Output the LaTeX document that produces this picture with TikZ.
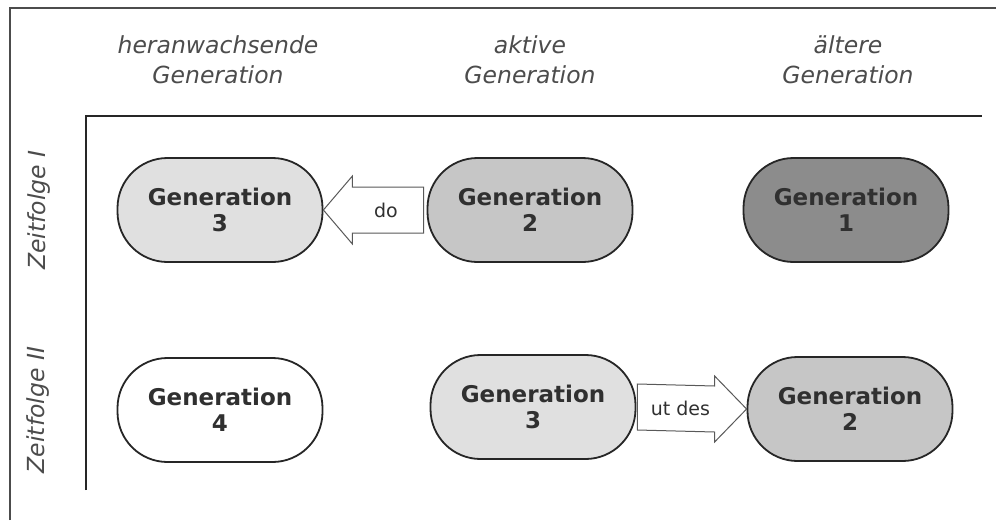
\documentclass[tikz,border=0pt]{standalone}
\usepackage{fontspec}
\setmainfont{DejaVu Sans}
\usetikzlibrary{calc}
\definecolor{gLight}{HTML}{E0E0E0}
\definecolor{gMid}{HTML}{C6C6C6}
\definecolor{gDark}{HTML}{8C8C8C}
\definecolor{inkc}{HTML}{303030}
\begin{document}
\begin{tikzpicture}[x=1pt,y=-1pt,
 gen/.style={draw=black!85, line width=1.8pt, rounded corners=50pt, minimum width=205pt, minimum height=104pt, align=center, font=\bfseries\fontsize{23}{25.5}\selectfont, text=inkc, inner sep=0pt},
 head/.style={align=center, font=\itshape\fontsize{23.5}{30}\selectfont, text=black!70},
 rowlab/.style={rotate=90, font=\itshape\fontsize{23.5}{26}\selectfont, text=black!70},
 blockarrow/.style={draw=black!65, line width=1pt, fill=white},
 arrlab/.style={font=\fontsize{19}{21}\selectfont, text=inkc}
]
\useasboundingbox (0,0) rectangle (996,520);
\fill[white] (0,0) rectangle (996,520);
% outer frame (cropped)
\coordinate (fBL) at (10,520);
\coordinate (fTL) at (10,8);
\coordinate (fTR) at (996,8);
\draw[line width=1.5pt, black!70] (fBL) -- (fTL) -- (fTR);
% axes
\coordinate (axO) at (86,116);
\coordinate (axY) at (86,490);
\coordinate (axX) at (982,116);
\draw[line width=2.4pt, black!85] (axY) -- (axO) -- (axX);
% headers
\node[head] (h1) at (218,60) {heranwachsende\\Generation};
\node[head] (h2) at (530,60) {aktive\\Generation};
\node[head] (h3) at (848,60) {ältere\\Generation};
% row labels
\node[rowlab] (r1) at (39,210) {Zeitfolge I};
\node[rowlab] (r2) at (38,410) {Zeitfolge II};
% nodes
\node[gen, fill=gLight] (g3a) at (220,210) {Generation\\3};
\node[gen, fill=gMid] (g2a) at (530,210) {Generation\\2};
\node[gen, fill=gDark] (g1a) at (846,210) {Generation\\1};
\node[gen, fill=white] (g4b) at (220,410) {Generation\\4};
\node[gen, fill=gLight] (g3b) at (533,407) {Generation\\3};
\node[gen, fill=gMid] (g2b) at (850,409) {Generation\\2};
% arrow do (Generation 2 -> Generation 3)
\draw[blockarrow] ($(g2a.west)+(-3pt,23pt)$) -- ($(g3a.east)+(29pt,23pt)$) -- ($(g3a.east)+(29pt,34pt)$) -- (g3a.east) -- ($(g3a.east)+(29pt,-34pt)$) -- ($(g3a.east)+(29pt,-23pt)$) -- ($(g2a.west)+(-3pt,-23pt)$) -- cycle;
\node[arrlab] (ldo) at ($(g3a.east)!0.5!(g2a.west)+(11pt,0pt)$) {do};
% arrow ut des (Generation 3 -> Generation 2)
\draw[blockarrow] ($(g3b.east)+(1pt,23pt)$) -- ($(g2b.west)+(-32pt,23pt)$) -- ($(g2b.west)+(-32pt,33pt)$) -- (g2b.west) -- ($(g2b.west)+(-32pt,-33pt)$) -- ($(g2b.west)+(-32pt,-23pt)$) -- ($(g3b.east)+(1pt,-23pt)$) -- cycle;
\node[arrlab] (lut) at ($(g3b.east)!0.5!(g2b.west)+(-11pt,0pt)$) {ut des};
\end{tikzpicture}
\end{document}
